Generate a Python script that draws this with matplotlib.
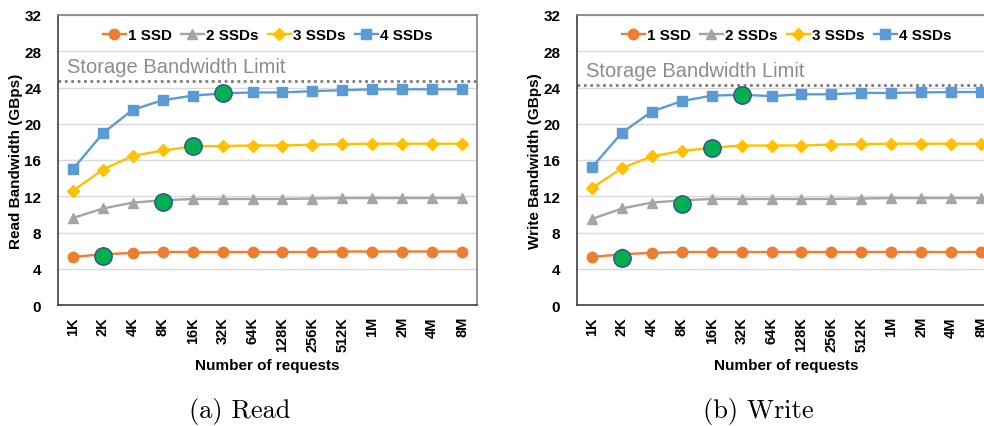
import matplotlib
matplotlib.use("Agg")
import matplotlib.pyplot as plt

categories = ["1K", "2K", "4K", "8K", "16K", "32K", "64K", "128K", "256K", "512K", "1M", "2M", "4M", "8M"]
series_names = ["1 SSD", "2 SSDs", "3 SSDs", "4 SSDs"]

read_1 = [5.3, 5.6, 5.75, 5.85, 5.85, 5.85, 5.85, 5.85, 5.85, 5.9, 5.9, 5.9, 5.9, 5.9]
read_2 = [9.6, 10.65, 11.3, 11.55, 11.7, 11.7, 11.7, 11.7, 11.75, 11.8, 11.8, 11.8, 11.8, 11.8]
read_3 = [12.6, 14.95, 16.45, 17.05, 17.5, 17.55, 17.6, 17.6, 17.7, 17.75, 17.8, 17.8, 17.8, 17.8]
read_4 = [15.0, 18.95, 21.55, 22.6, 23.1, 23.35, 23.45, 23.45, 23.6, 23.7, 23.8, 23.8, 23.8, 23.8]

write_1 = [5.3, 5.6, 5.75, 5.85, 5.85, 5.85, 5.85, 5.85, 5.85, 5.85, 5.85, 5.85, 5.85, 5.85]
write_2 = [9.5, 10.65, 11.3, 11.55, 11.7, 11.7, 11.7, 11.7, 11.7, 11.75, 11.8, 11.8, 11.8, 11.8]
write_3 = [12.9, 15.1, 16.4, 17.0, 17.35, 17.6, 17.6, 17.6, 17.7, 17.75, 17.8, 17.8, 17.8, 17.8]
write_4 = [15.2, 19.0, 21.35, 22.5, 23.1, 23.2, 23.05, 23.25, 23.25, 23.4, 23.4, 23.45, 23.5, 23.5]

highlight_idx = [1, 3, 4, 5]
read_highlight = [5.4, 11.4, 17.55, 23.35]
write_highlight = [5.2, 11.15, 17.35, 23.2]

read_limit = 24.75
write_limit = 24.25

y_ticks = [0, 4, 8, 12, 16, 20, 24, 28, 32]

colors = ["#ED7D31", "#A5A5A5", "#FFC000", "#5B9BD5"]
markers = ["o", "^", "D", "s"]
msizes = [7.5, 7.5, 6, 7.5]

plt.rcParams['font.family'] = ['Liberation Sans', 'DejaVu Sans']

fig = plt.figure(figsize=(9.84, 4.27), dpi=100)
W, H = 984, 427
ax_w = 419 / W
ax_h = 290 / H
ax_b = (427 - 306) / H
axL = fig.add_axes([58 / W, ax_b, ax_w, ax_h])
axR = fig.add_axes([577 / W, ax_b, ax_w, ax_h])

def draw(ax, data, hl, limit, ylabel):
    x = list(range(len(categories)))
    for ys, c, m, ms, name in zip(data, colors, markers, msizes, series_names):
        ax.plot(x, ys, color=c, marker=m, markersize=ms, linewidth=1.7, label=name, zorder=3)
    ax.plot(highlight_idx, hl, linestyle="none", marker="o", markersize=12.5,
            markerfacecolor="#00B050", markeredgecolor="#2F4F8F", markeredgewidth=1, zorder=5)
    ax.axhline(limit, color="#7f7f7f", linestyle=(0, (1, 1.3)), linewidth=2, zorder=2)
    ax.text(0.022, limit + 0.55, "Storage Bandwidth Limit", transform=ax.get_yaxis_transform(),
            color="#8c8c8c", fontsize=14.5, va="bottom", ha="left", fontfamily="Liberation Sans")
    ax.set_xlim(-0.5, len(categories) - 0.5)
    ax.set_ylim(0, 32)
    ax.set_yticks(y_ticks)
    ax.set_xticks(x)
    ax.set_xticklabels(categories, rotation=90, fontweight="bold", fontsize=10.5)
    ax.set_yticklabels([str(v) for v in y_ticks], fontweight="bold", fontsize=11)
    ax.tick_params(axis="x", length=0, pad=8)
    ax.tick_params(axis="y", length=0, pad=12)
    ax.grid(axis="y", color="#d9d9d9", linewidth=1, zorder=0)
    ax.set_axisbelow(True)
    for s in ["left", "bottom"]:
        ax.spines[s].set_color("#404040")
        ax.spines[s].set_linewidth(1.2)
    for s in ["top", "right"]:
        ax.spines[s].set_color("#7f7f7f")
        ax.spines[s].set_linewidth(1.2)
    ax.set_xlabel("Number of requests", fontweight="bold", fontsize=11, labelpad=5)
    ax.set_ylabel(ylabel, fontweight="bold", fontsize=11)
    ax.yaxis.set_label_coords(-35 / 419, 0.5)
    ax.legend(loc="upper center", bbox_to_anchor=(0.5, 1.0), ncol=4, frameon=False,
              prop={"weight": "bold", "size": 11}, handlelength=1.5, handletextpad=0.15,
              columnspacing=0.6, borderaxespad=0.45)

draw(axL, [read_1, read_2, read_3, read_4], read_highlight, read_limit, "Read Bandwidth (GBps)")
draw(axR, [write_1, write_2, write_3, write_4], write_highlight, write_limit, "Write Bandwidth (GBps)")

fig.text(240 / W, 1 - 412 / H, "(a) Read", fontfamily="cmr10", fontsize=19, ha="center", va="center")
fig.text(758 / W, 1 - 412 / H, "(b) Write", fontfamily="cmr10", fontsize=19, ha="center", va="center")

fig.savefig("out.png", dpi=100)
